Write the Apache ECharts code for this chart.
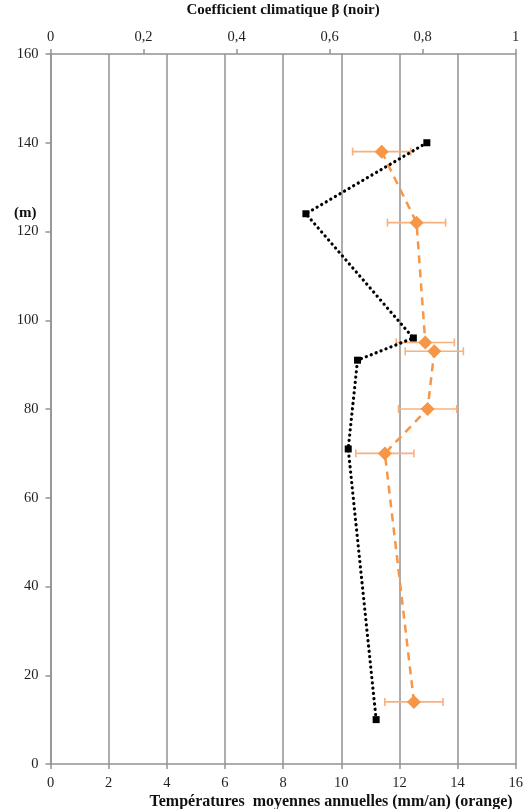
<!DOCTYPE html>
<html>
<head>
<meta charset="utf-8">
<script src="https://cdn.jsdelivr.net/npm/echarts@6/dist/echarts.min.js"></script>
<style>
html,body{margin:0;padding:0;background:#fff;}
#c{width:527px;height:809px;}
</style>
</head>
<body>
<div id="c"></div>
<script>
// Orange series: mean annual temperature vs altitude
const tempValues = [11.39, 12.59, 12.89, 13.20, 12.97, 11.50, 12.50];
const tempAltitudes = [138, 122, 95, 93, 80, 70, 14];
const tempErrors = [1, 1, 1, 1, 1, 1, 1];
// Black series: climatic coefficient beta vs altitude
const betaValues = [0.809, 0.549, 0.780, 0.660, 0.640, 0.700];
const betaAltitudes = [140, 124, 96, 91, 71, 10];
// Axis tick settings
const bottomTicks = [0, 2, 4, 6, 8, 10, 12, 14, 16];
const topTicks = [0, 0.2, 0.4, 0.6, 0.8, 1];
const leftTicks = [0, 20, 40, 60, 80, 100, 120, 140, 160];

const tempData = tempValues.map((v, i) => [v, tempAltitudes[i]]);
const errData = tempValues.map((v, i) => [v - tempErrors[i], v + tempErrors[i], tempAltitudes[i]]);
const betaData = betaValues.map((v, i) => [v, betaAltitudes[i]]);

const FONT = 'Liberation Serif';
const labelStyle = {color: '#1f1f1f', fontFamily: FONT, fontSize: 14.5};
const nameStyle = {color: '#111', fontFamily: FONT, fontSize: 15, fontWeight: 'bold'};
const gray = '#929292';

const chart = echarts.init(document.getElementById('c'), null, {renderer: 'canvas'});
chart.setOption({
  animation: false,
  backgroundColor: '#fff',
  grid: {left: 50.5, right: 11.3, top: 54, bottom: 45, containLabel: false, outerBoundsMode: 'none'},
  xAxis: [
    {
      type: 'value', position: 'bottom',
      min: bottomTicks[0], max: bottomTicks[bottomTicks.length - 1], interval: 2,
      name: 'Températures  moyennes annuelles (mm/an) (orange)',
      nameLocation: 'middle', nameGap: 30, nameMoveOverlap: false,
      nameTextStyle: Object.assign({}, nameStyle, {fontSize: 16, padding: [0, 0, 0, 96]}),
      axisLine: {show: true, onZero: false, lineStyle: {color: gray, width: 1.5}},
      axisTick: {show: true, inside: false, length: 5, lineStyle: {color: gray, width: 1.5}},
      axisLabel: Object.assign({margin: 12}, labelStyle),
      splitLine: {show: true, lineStyle: {color: gray, width: 1.5}}
    },
    {
      type: 'value', position: 'top',
      min: topTicks[0], max: topTicks[topTicks.length - 1], interval: 0.2,
      name: 'Coefficient climatique β (noir)',
      nameLocation: 'middle', nameGap: 36, nameTextStyle: nameStyle,
      axisLine: {show: true, onZero: false, lineStyle: {color: gray, width: 1.5}},
      axisTick: {show: true, inside: false, length: 5, lineStyle: {color: gray, width: 1.5}},
      axisLabel: Object.assign({margin: 9, formatter: v => String(Math.round(v * 10) / 10).replace('.', ',')}, labelStyle),
      splitLine: {show: false}
    }
  ],
  yAxis: {
    type: 'value',
    min: leftTicks[0], max: leftTicks[leftTicks.length - 1], interval: 20,
    axisLine: {show: true, onZero: false, lineStyle: {color: gray, width: 1.5}},
    axisTick: {show: true, length: 5, lineStyle: {color: gray, width: 1.5}},
    axisLabel: Object.assign({margin: 12}, labelStyle),
    splitLine: {show: false}
  },
  graphic: [{
    type: 'text', left: 14, top: 206,
    style: {text: '(m)', font: 'bold 15px "Liberation Serif"', fill: '#111'}
  }],
  series: [
    {
      type: 'custom', xAxisIndex: 0, yAxisIndex: 0, z: 2,
      data: errData,
      renderItem: function (params, api) {
        const lo = api.coord([api.value(0), api.value(2)]);
        const hi = api.coord([api.value(1), api.value(2)]);
        const c = 4;
        const style = {stroke: '#f8b07c', lineWidth: 1.6};
        return {
          type: 'group',
          children: [
            {type: 'line', shape: {x1: lo[0], y1: lo[1], x2: hi[0], y2: hi[1]}, style: style},
            {type: 'line', shape: {x1: lo[0], y1: lo[1] - c, x2: lo[0], y2: lo[1] + c}, style: style},
            {type: 'line', shape: {x1: hi[0], y1: hi[1] - c, x2: hi[0], y2: hi[1] + c}, style: style}
          ]
        };
      }
    },
    {
      type: 'line', xAxisIndex: 0, yAxisIndex: 0, z: 3,
      data: tempData,
      symbol: 'diamond', symbolSize: 14,
      itemStyle: {color: '#f79646'},
      lineStyle: {color: '#f79646', width: 2.5, type: [8, 6]}
    },
    {
      type: 'line', xAxisIndex: 1, yAxisIndex: 0, z: 4,
      data: betaData,
      symbol: 'rect', symbolSize: 7,
      itemStyle: {color: '#000'},
      lineStyle: {color: '#000', width: 3.2, type: [0.1, 5.2], cap: 'round'}
    }
  ]
});
</script>
</body>
</html>
